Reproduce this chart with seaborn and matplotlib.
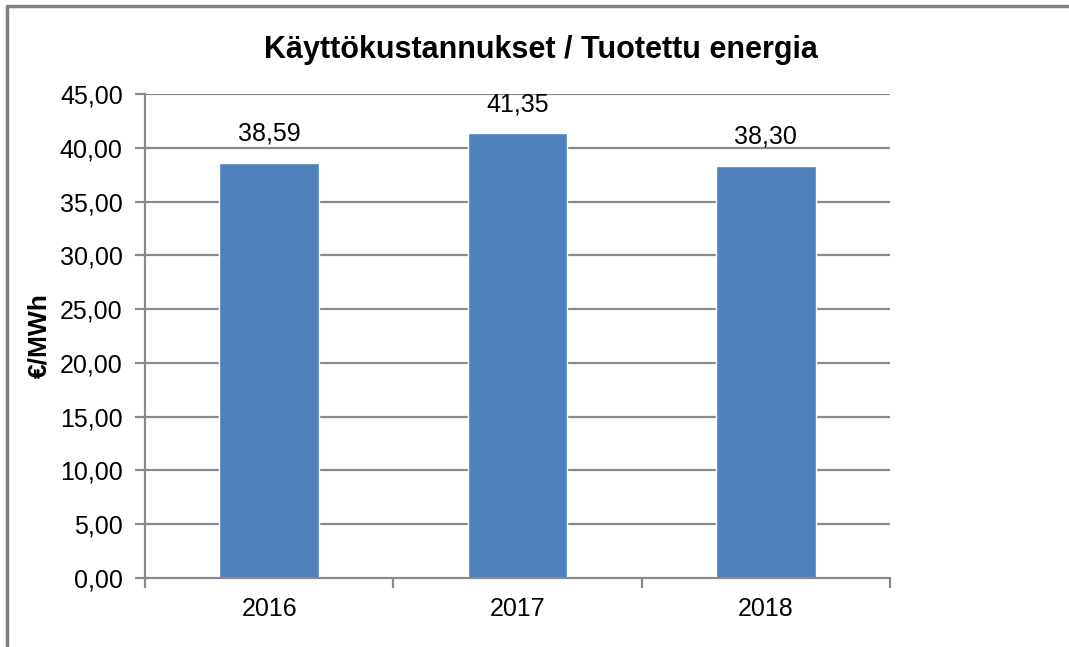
import matplotlib
matplotlib.use("Agg")
import matplotlib.pyplot as plt
from matplotlib.lines import Line2D
import seaborn as sns
import pandas as pd

# data
years = ["2016", "2017", "2018"]
costs = [38.59, 41.35, 38.30]
yticks = [0, 5, 10, 15, 20, 25, 30, 35, 40, 45]

df = pd.DataFrame({"year": years, "cost": costs})

sns.set_style("white")
plt.rcParams["font.family"] = ["Liberation Sans", "DejaVu Sans"]

fig = plt.figure(figsize=(10.69, 6.47), dpi=100)
ax = fig.add_axes([0.1356, 0.1066, 0.697, 0.748])

grid_col = "#8a8a8a"
for t in yticks[1:]:
    ax.axhline(t, color=grid_col, lw=1.6, zorder=0)

sns.barplot(data=df, x="year", y="cost", color="#4f81bd", width=0.4,
            saturation=1, ax=ax, zorder=2)

# value labels above the bars, finnish decimal comma
for i, v in enumerate(costs):
    ax.text(i, v + 1.6, f"{v:.2f}".replace(".", ","), ha="center", va="bottom",
            fontsize=18, color="black")

ax.set_xlim(-0.5, 2.5)
ax.set_ylim(0, 45)
ax.set_yticks(yticks)
ax.set_yticklabels([f"{t:.2f}".replace(".", ",") for t in yticks], fontsize=18,
                   color="black")
ax.set_xticks([0, 1, 2])
ax.set_xticklabels(years, fontsize=18, color="black")
ax.tick_params(axis="x", length=0, pad=14)
ax.tick_params(axis="y", length=7, width=1.6, color=grid_col, pad=9, left=True)
# category boundary ticks under the x axis
ax.set_xticks([-0.5, 0.5, 1.5, 2.5], minor=True)
ax.tick_params(axis="x", which="minor", length=7, width=1.6, color=grid_col,
               bottom=True)

for s in ["top", "right"]:
    ax.spines[s].set_visible(False)
for s in ["left", "bottom"]:
    ax.spines[s].set_color(grid_col)
    ax.spines[s].set_linewidth(1.6)

ax.set_xlabel("")
ax.set_ylabel("€/MWh", fontsize=19, fontweight="bold", labelpad=6, color="black")
ax.set_title("Käyttökustannukset / Tuotettu energia", fontsize=22,
             fontweight="bold", pad=26, color="black", x=0.532)

# outer chart frame (top and left only visible)
fig.add_artist(Line2D([0.0065, 1.0], [0.991, 0.991], color="#808080", lw=2.5,
                      transform=fig.transFigure))
fig.add_artist(Line2D([0.0065, 0.0065], [0.0, 0.991], color="#808080", lw=2.5,
                      transform=fig.transFigure))

fig.savefig("out.png", dpi=100)
